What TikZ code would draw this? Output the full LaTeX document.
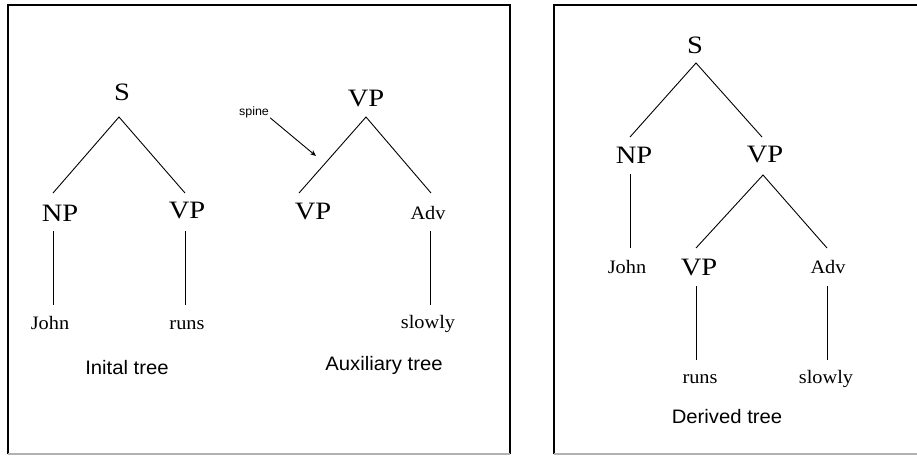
\documentclass[tikz,border=0pt]{standalone}
\usepackage{fontspec}
\setmainfont{Liberation Serif}
\newfontfamily\bigserif[FakeStretch=1.14]{Liberation Serif}
\newfontfamily\smserif[FakeStretch=1.07]{Liberation Serif}
\newfontfamily\capsans[FakeStretch=1.04]{Liberation Sans}
\usetikzlibrary{arrows.meta}
\tikzset{
  big/.style={inner sep=0pt, font=\bigserif\fontsize{25}{26}\selectfont},
  small/.style={inner sep=0pt, font=\smserif\fontsize{19}{20}\selectfont},
  caption/.style={inner sep=0pt, font=\capsans\fontsize{19.5}{20}\selectfont},
  tiny/.style={inner sep=0pt, font=\capsans\fontsize{12}{13}\selectfont},
  edge/.style={line width=0.9pt},
  frame/.style={line width=1.5pt},
  framebot/.style={line width=1.5pt, draw=black!30}
}
\begin{document}
\begin{tikzpicture}[x=1pt,y=-1pt]
\useasboundingbox (0,0) rectangle (917,455);
% frames
\coordinate (L1) at (8,5); \coordinate (L2) at (510,5);
\coordinate (L3) at (510,454); \coordinate (L4) at (8,454);
\draw[frame] (L4) -- (L1) -- (L2) -- (L3);
\draw[framebot] (L4) -- (L3);
\coordinate (R1) at (917,5); \coordinate (R2) at (554,5);
\coordinate (R3) at (554,454); \coordinate (R4) at (917,454);
\draw[frame] (R1) -- (R2) -- (R3);
\draw[framebot] (R3) -- (R4);

% ---- Initial tree
\node[big] (iS) at (122,92) {S};
\node[big] (iNP) at (60,213) {NP};
\node[big] (iVP) at (187,211) {VP};
\node[small] (iJohn) at (50,323) {John};
\node[small] (iruns) at (187,325) {runs};
\node[caption] (icap) at (127,368) {Inital tree};
\coordinate (iSb) at (119,117);
\coordinate (iNPt) at (53,193);
\coordinate (iVPt) at (185,193);
\coordinate (iNPb) at (53,231); \coordinate (iJt) at (53,305);
\coordinate (iVPb) at (185,231); \coordinate (iRt) at (185,305);
\draw[edge] (iNPt) -- (iSb) -- (iVPt);
\draw[edge] (iNPb) -- (iJt);
\draw[edge] (iVPb) -- (iRt);

% ---- Auxiliary tree
\node[big] (aVP) at (366,99) {VP};
\node[big] (aVPf) at (313,212) {VP};
\node[small] (aAdv) at (428,213) {Adv};
\node[small] (aslow) at (428,324) {slowly};
\node[caption] (acap) at (384,365) {Auxiliary tree};
\node[tiny] (spine) at (254,112) {spine};
\coordinate (aVPb) at (366,117);
\coordinate (aVPft) at (299,193);
\coordinate (aAdvt) at (431,193);
\coordinate (aAdvb) at (430,231); \coordinate (aSt) at (430,305);
\coordinate (spinetip) at (316,156);
\draw[edge] (aVPft) -- (aVPb) -- (aAdvt);
\draw[edge] (aAdvb) -- (aSt);
\draw[edge,-{Stealth[length=6pt,width=5pt]}] (spine.south east) ++(1,0) coordinate (spinefrom) (spinefrom) -- (spinetip);

% ---- Derived tree
\node[big] (dS) at (695,45) {S};
\node[big] (dNP) at (634,155) {NP};
\node[big] (dVP) at (765,155) {VP};
\node[small] (dJohn) at (627,267) {John};
\node[big] (dVP2) at (699,267) {VP};
\node[small] (dAdv) at (828,267) {Adv};
\node[small] (druns) at (700,379) {runs};
\node[small] (dslow) at (826,379) {slowly};
\node[caption] (dcap) at (727,417) {Derived tree};
\coordinate (dSb) at (696,63);
\coordinate (dNPt) at (630,137); \coordinate (dVPt) at (762,137);
\coordinate (dNPb) at (630,174); \coordinate (dJt) at (630,248);
\coordinate (dVPb) at (763,175);
\coordinate (dVP2t) at (696,248); \coordinate (dAdvt) at (827,248);
\coordinate (dVP2b) at (696,286); \coordinate (drt) at (696,360);
\coordinate (dAdvb) at (827,286); \coordinate (dst) at (827,360);
\draw[edge] (dNPt) -- (dSb) -- (dVPt);
\draw[edge] (dNPb) -- (dJt);
\draw[edge] (dVP2t) -- (dVPb) -- (dAdvt);
\draw[edge] (dVP2b) -- (drt);
\draw[edge] (dAdvb) -- (dst);
\end{tikzpicture}
\end{document}
